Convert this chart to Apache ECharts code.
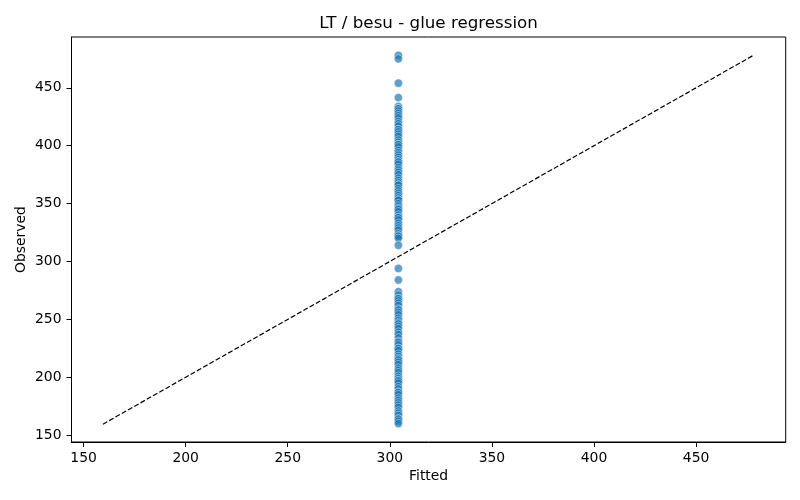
<!DOCTYPE html>
<html>
<head>
<meta charset="utf-8">
<script src="https://cdn.jsdelivr.net/npm/echarts@6/dist/echarts.min.js"></script>
<style>html,body{margin:0;padding:0;background:#fff}#chart{width:800px;height:500px}</style>
</head>
<body>
<div id="chart"></div>
<script>
var titleText = 'LT / besu - glue regression';
var xName = 'Fitted';
var yName = 'Observed';
var fittedValue = 304.2;
var observed = [
  478, 475, 454, 441.5,
  434, 432, 432, 430, 428, 426, 424, 421, 419, 417, 414, 414, 412, 410, 408, 405,
  403, 401, 401, 399, 396, 394, 392, 390, 388, 386, 386, 384, 381, 379, 377, 375,
  372, 370, 368, 366, 366, 363, 361, 359, 357, 355, 353, 353, 350, 348, 346, 345,
  343, 340, 338, 338, 336, 333, 331, 329, 327, 324, 322, 322, 320, 314,
  294, 284,
  274, 271, 268, 268, 266, 264, 262, 259, 258, 256, 254, 251, 249, 247, 246, 244,
  242, 239, 237, 234, 231, 230, 228, 225, 225, 223, 220, 218, 216, 215, 213, 211,
  208, 206, 204, 201, 199, 197, 197, 195, 192, 190, 187, 187, 185, 182, 180, 178,
  176, 174, 171, 169, 167, 164, 164, 162, 160
];
var identityLine = [159.5, 478];
var xTicks = [150, 200, 250, 300, 350, 400, 450];
var yTicks = [150, 200, 250, 300, 350, 400, 450];
var axisMin = 144.1, axisMax = 493.9;

var font = 'DejaVu Sans';
var chart = echarts.init(document.getElementById('chart'));
function axis(name, ticks, isX) {
  return {
    type: 'value', min: axisMin, max: axisMax,
    name: name, nameLocation: 'middle', nameGap: isX ? 27 : 43, nameMoveOverlap: false,
    nameTextStyle: {fontFamily: font, fontSize: 13.9, color: '#000'},
    axisLine: {show: true, lineStyle: {color: '#000', width: 1}},
    axisTick: {show: true, length: 5, inside: false, customValues: ticks, lineStyle: {color: '#000', width: 1}},
    axisLabel: {customValues: ticks, margin: isX ? 9 : 10, fontFamily: font, fontSize: 13.9, color: '#000'},
    splitLine: {show: false}
  };
}
chart.setOption({
  animation: false,
  backgroundColor: '#fff',
  graphic: [{type: 'text', x: 428.6, y: 24, style: {text: titleText, fontFamily: font, fontSize: 16.7, fill: '#000', align: 'center', verticalAlign: 'middle'}}],
  grid: {left: 71.5, right: 14.3, top: 37, bottom: 58, show: true, borderColor: '#000', borderWidth: 1, containLabel: false},
  xAxis: axis(xName, xTicks, true),
  yAxis: axis(yName, yTicks, false),
  series: [
    {
      type: 'scatter', symbolSize: 8.3,
      itemStyle: {color: '#1f77b4', borderColor: '#fff', borderWidth: 0.6, opacity: 0.7},
      data: observed.map(function (v) { return [fittedValue, v]; }),
      z: 2
    },
    {
      type: 'line', symbol: 'none',
      lineStyle: {color: '#000', width: 1.2, type: [5, 2.2]},
      data: identityLine.map(function (v) { return [v, v]; }),
      z: 3
    }
  ]
});
</script>
</body>
</html>
